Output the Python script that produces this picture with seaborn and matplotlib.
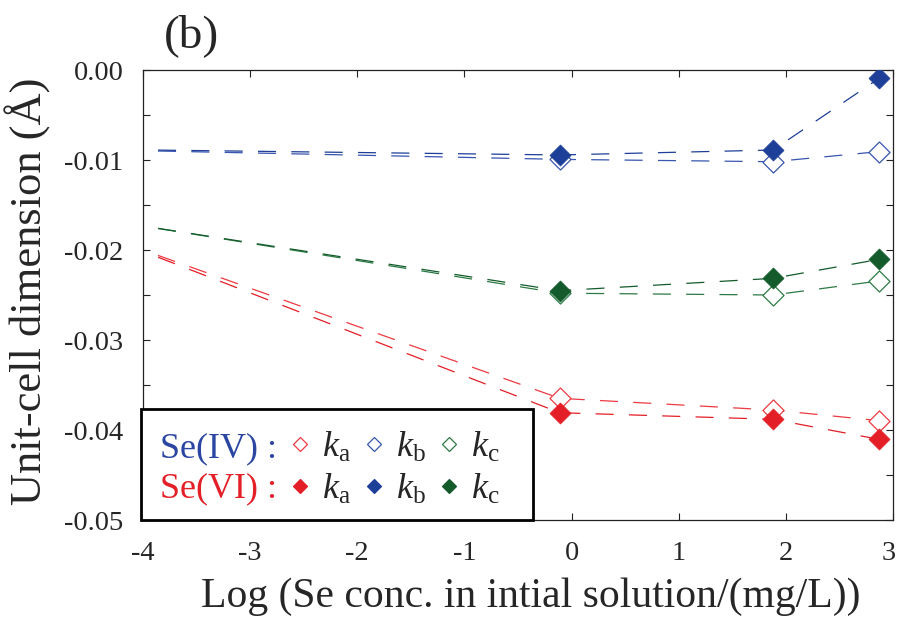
import numpy as np
import pandas as pd
import matplotlib
matplotlib.use("Agg")
import matplotlib.pyplot as plt
import seaborn as sns
from matplotlib.lines import Line2D
from matplotlib.ticker import MultipleLocator, FormatStrFormatter
from matplotlib.transforms import ScaledTranslation

# ---------------- data ----------------
x_vals = [-3.86, -0.11, 1.88, 2.87]          # log conc.; first point = start of control line (no marker)
marked = [False, True, True, True]
se4_ka = [-0.0206, -0.03648, -0.03778, -0.03896]
se4_kb = [-0.0090, -0.00993, -0.01019, -0.00907]
se4_kc = [-0.0176, -0.0248, -0.0250, -0.02344]
se6_ka = [-0.0208, -0.03808, -0.03881, -0.04104]
se6_kb = [-0.0089, -0.00944, -0.00889, -0.00093]
se6_kc = [-0.0176, -0.02452, -0.02315, -0.02104]

species = ["Se(IV)", "Se(VI)"]
params = ["ka", "kb", "kc"]
param_labels = {"ka": r"  $k_\mathrm{a}$", "kb": r"  $k_\mathrm{b}$", "kc": r"  $k_\mathrm{c}$   "}
y_ticks = [0.00, -0.01, -0.02, -0.03, -0.04, -0.05]
x_ticks = [-4, -3, -2, -1, 0, 1, 2, 3]

series = {("Se(IV)", "ka"): se4_ka, ("Se(IV)", "kb"): se4_kb, ("Se(IV)", "kc"): se4_kc,
          ("Se(VI)", "ka"): se6_ka, ("Se(VI)", "kb"): se6_kb, ("Se(VI)", "kc"): se6_kc}
rows = []
for (sp, p), vals in series.items():
    for x, v, m in zip(x_vals, vals, marked):
        rows.append({"species": sp, "param": p, "x": x, "value": v, "marked": m})
df = pd.DataFrame(rows)

# ---------------- styles ----------------
col_filled = {"ka": "#E31E26", "kb": "#1E3F98", "kc": "#145B2C"}
col_open = {"ka": "#EC3A42", "kb": "#3855B0", "kc": "#2C7A45"}
sp_color = {"Se(IV)": "#2A46A2", "Se(VI)": "#E32028"}

sns.set_theme(style="ticks")
plt.rcParams["font.family"] = ["Liberation Serif", "DejaVu Serif"]
plt.rcParams["mathtext.fontset"] = "custom"
plt.rcParams["mathtext.rm"] = "Liberation Serif"
plt.rcParams["mathtext.it"] = "Liberation Serif:italic"
plt.rcParams["axes.unicode_minus"] = False
plt.rcParams["lines.scale_dashes"] = False

fig = plt.figure(figsize=(8.98, 6.18), dpi=100)
ax = fig.add_axes([143 / 898, 1 - 520 / 618, 750 / 898, 450 / 618])

for (sp, p), sub in df.groupby(["species", "param"]):
    filled = sp == "Se(VI)"
    c = col_filled[p] if filled else col_open[p]
    sns.lineplot(data=sub, x="x", y="value", ax=ax, color=c, lw=0.9,
                 linestyle=(0, (13, 11)), sort=False, estimator=None, legend=False)
    msub = sub[sub["marked"]]
    if filled:
        sns.scatterplot(data=msub, x="x", y="value", ax=ax, marker="D", s=115,
                        color=c, edgecolor=c, linewidth=0.5, legend=False, zorder=5)
    else:
        sns.scatterplot(data=msub, x="x", y="value", ax=ax, marker="D", s=115,
                        facecolor="white", edgecolor=c, linewidth=0.9, legend=False, zorder=4)

ax.set_xlim(-4, 3)
ax.set_ylim(-0.05, 0.0)
ax.set_xticks(x_ticks)
ax.set_xticklabels([str(t) for t in x_ticks])
ax.set_yticks(y_ticks)
ax.yaxis.set_major_formatter(FormatStrFormatter("%.2f"))
ax.yaxis.set_minor_locator(MultipleLocator(0.005))
ax.tick_params(axis="both", which="both", direction="in", top=True, right=True,
               length=5, width=0.8, color="#222222")
ax.tick_params(axis="y", which="major", labelsize=20.5, pad=14)
ax.tick_params(axis="x", which="major", labelsize=20.5, pad=15)
for s in ax.spines.values():
    s.set_linewidth(0.9)
    s.set_color("#222222")

# keep the last x tick label inside the canvas
last_lab = ax.xaxis.get_major_ticks()[-1].label1
last_lab.set_transform(last_lab.get_transform() + ScaledTranslation(-4 / 100, 0, fig.dpi_scale_trans))

ax.set_xlabel("Log (Se conc. in intial solution/(mg/L))", fontsize=30)
ax.set_ylabel("Unit-cell dimension (Å)", fontsize=32)
ax.xaxis.set_label_coords(0.517, -0.128)
ax.yaxis.set_label_coords(-0.122, 0.509)

# ---------------- legend ----------------
handles, labels = [], []
for sp in species:
    handles.append(Line2D([], [], linestyle="none"))
    labels.append(sp + " :")
for p in params:
    for sp in species:
        filled = sp == "Se(VI)"
        c = col_filled[p] if filled else col_open[p]
        handles.append(Line2D([], [], linestyle="none", marker="D", markersize=7.6,
                              markerfacecolor=c if filled else "white",
                              markeredgecolor=c, markeredgewidth=0.9))
        labels.append(param_labels[p])
pad_px = 13.6
leg = ax.legend(handles, labels, ncol=4, loc="lower left",
                bbox_to_anchor=((141 + pad_px - 143) / 750, pad_px / 450),
                borderaxespad=0, fontsize=26, handlelength=0.1, handletextpad=0.05,
                columnspacing=0.6, labelspacing=0.2, borderpad=0,
                title=" ", title_fontsize=0.5,
                frameon=True, fancybox=False, framealpha=1)
frame = leg.get_frame()
frame.set_boxstyle("square", pad=pad_px / (26 * 100 / 72))
frame.set_edgecolor("black")
frame.set_linewidth(2.0)
for t, sp in zip(leg.get_texts()[:2], species):
    t.set_color(sp_color[sp])

fig.text(192 / 898, 1 - 36 / 618, "(b)", ha="center", va="center", fontsize=34)

fig.savefig("out.png", dpi=100)
